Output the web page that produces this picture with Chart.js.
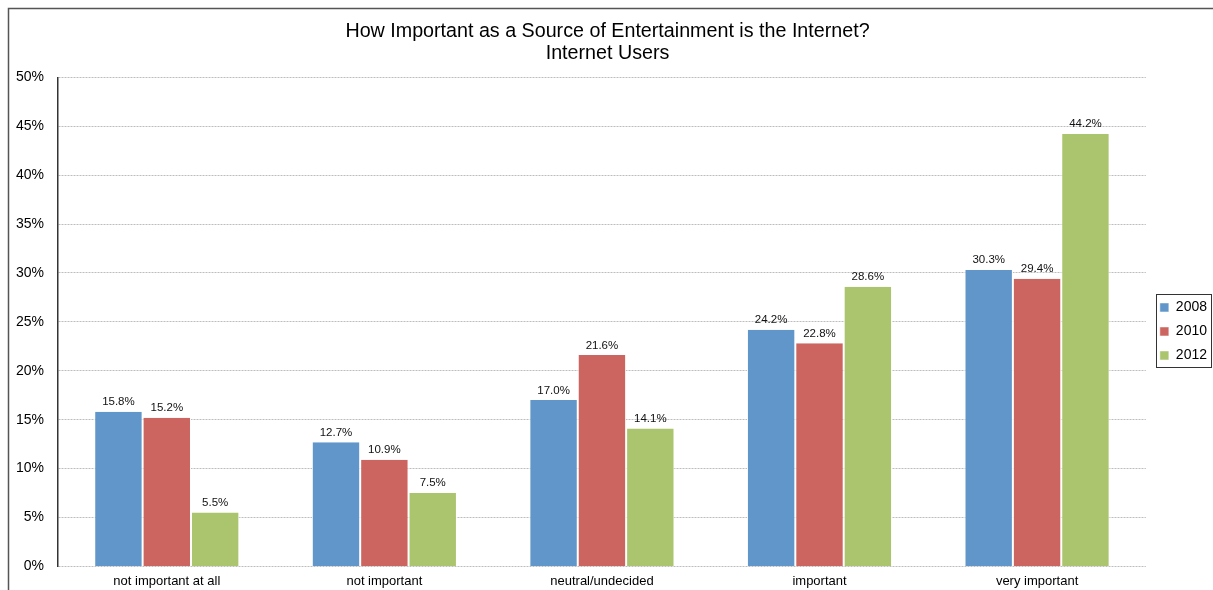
<!DOCTYPE html>
<html>
<head>
<meta charset="utf-8">
<script src="https://cdn.jsdelivr.net/npm/chart.js@4/dist/chart.umd.min.js"></script>
<style>
  html, body { margin: 0; padding: 0; background: #fff; }
  #wrap { width: 1213px; height: 590px; position: relative; }
</style>
</head>
<body>
<div id="wrap"><canvas id="chart"></canvas></div>
<script>
const categories = ["not important at all", "not important", "neutral/undecided", "important", "very important"];
const years = ["2008", "2010", "2012"];
const values2008 = [15.8, 12.7, 17.0, 24.2, 30.3];
const values2010 = [15.2, 10.9, 21.6, 22.8, 29.4];
const values2012 = [5.5, 7.5, 14.1, 28.6, 44.2];
const colors = ["#6096c9", "#cc655f", "#abc46e"];

const FONT = "'Liberation Sans', Arial, sans-serif";
const LEGEND_SHIFT = 4;

// outer frame + value labels + legend box
const decorations = {
  id: "decorations",
  afterLayout(chart) {
    // push the legend a little further from the plot
    const lg = chart.legend;
    lg.left += LEGEND_SHIFT;
    lg.right += LEGEND_SHIFT;
  },
  beforeDraw(chart) {
    const ctx = chart.ctx;
    ctx.save();
    ctx.strokeStyle = "#555";
    ctx.lineWidth = 1.5;
    ctx.beginPath();
    ctx.moveTo(8.5, 600);
    ctx.lineTo(8.5, 8.5);
    ctx.lineTo(1230, 8.5);
    ctx.stroke();
    ctx.restore();
  },
  afterDatasetsDraw(chart) {
    const ctx = chart.ctx;
    ctx.save();
    ctx.font = "11.5px " + FONT;
    ctx.fillStyle = "#111";
    ctx.textAlign = "center";
    ctx.textBaseline = "bottom";
    chart.data.datasets.forEach((ds, i) => {
      chart.getDatasetMeta(i).data.forEach((bar, j) => {
        ctx.fillText(ds.data[j].toFixed(1) + "%", bar.x, bar.y - 4);
      });
    });
    ctx.restore();
  },
  afterDraw(chart) {
    // border around the legend items only
    const boxes = chart.legend.legendHitBoxes;
    if (!boxes || !boxes.length) return;
    const first = boxes[0], last = boxes[boxes.length - 1];
    const left = Math.round(first.left) - 4;
    const top = Math.round(first.top) - 6;
    const bottom = Math.round(last.top + last.height) + 5;
    const right = Math.min(Math.round(Math.max(...boxes.map(b => b.left + b.width))) + 5, 1211);
    const ctx = chart.ctx;
    ctx.save();
    ctx.strokeStyle = "#333";
    ctx.lineWidth = 1;
    ctx.strokeRect(left + 0.5, top + 0.5, right - left, bottom - top);
    ctx.restore();
  }
};

new Chart(document.getElementById("chart"), {
  type: "bar",
  data: {
    labels: categories,
    datasets: [values2008, values2010, values2012].map((d, i) => ({
      label: years[i],
      data: d,
      backgroundColor: colors[i],
      borderColor: "#fff",
      borderWidth: { left: 1, right: 1, top: 0, bottom: 0 },
      borderSkipped: false,
      categoryPercentage: 0.667,
      barPercentage: 1.0
    }))
  },
  options: {
    responsive: true,
    maintainAspectRatio: false,
    animation: false,
    layout: { padding: { left: 2, right: 0, top: 12, bottom: -6 } },
    plugins: {
      title: {
        display: true,
        text: ["How Important as a Source of Entertainment is the Internet?", "Internet Users"],
        color: "#000",
        font: { family: FONT, size: 19.7, weight: "normal", lineHeight: 1.15 },
        padding: { top: 8, bottom: 12 }
      },
      legend: {
        position: "right",
        fullSize: false,
        title: { display: true, text: " ", font: { size: 16 }, padding: 0 },
        labels: {
          color: "#000",
          font: { family: FONT, size: 14 },
          boxWidth: 9,
          boxHeight: 9,
          padding: 10
        }
      },
      tooltip: { enabled: false }
    },
    scales: {
      x: {
        grid: { display: false, drawTicks: false },
        border: { display: false },
        ticks: { color: "#000", font: { family: FONT, size: 13 }, padding: 7 }
      },
      y: {
        min: 0,
        max: 50,
        grid: { color: "#bdbdbd", lineWidth: 1, drawTicks: false },
        border: { display: true, color: "#333", width: 1.5, dash: [2, 1] },
        ticks: {
          stepSize: 5,
          color: "#000",
          font: { family: FONT, size: 14 },
          padding: 14,
          callback: v => v + "%"
        }
      }
    }
  },
  plugins: [decorations]
});
</script>
</body>
</html>
